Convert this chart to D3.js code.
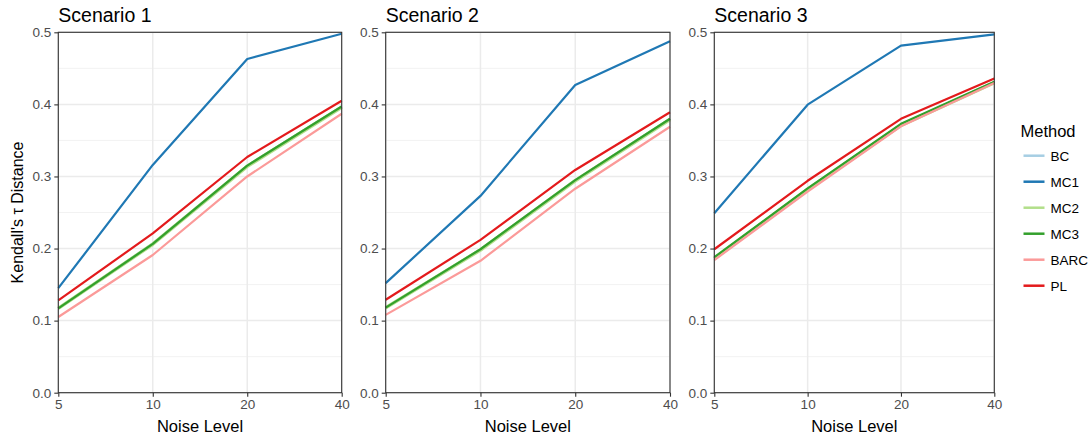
<!DOCTYPE html>
<html>
<head>
<meta charset="utf-8">
<script src="https://cdn.jsdelivr.net/npm/d3@7"></script>
<style>
  body { margin: 0; background: #fff; }
  text { font-family: "Liberation Sans", Arial, sans-serif; }
</style>
</head>
<body>
<svg id="chart" width="1091" height="437"></svg>
<script>
// data
var noiseLevels = [5, 10, 20, 40];
var methods = ["BC", "MC1", "MC2", "MC3", "BARC", "PL"];
var methodColors = ["#a6cee3", "#1f78b4", "#b2df8a", "#33a02c", "#fb9a99", "#e31a1c"];
var scenarios = ["Scenario 1", "Scenario 2", "Scenario 3"];
var yTicks = [0, 0.1, 0.2, 0.3, 0.4, 0.5];

// scenario 1
var s1BC   = [0.117, 0.207, 0.315, 0.397];
var s1MC1  = [0.145, 0.316, 0.463, 0.498];
var s1MC2  = [0.117, 0.206, 0.314, 0.396];
var s1MC3  = [0.117, 0.2065, 0.315, 0.397];
var s1BARC = [0.105, 0.191, 0.300, 0.387];
var s1PL   = [0.128, 0.221, 0.327, 0.405];
// scenario 2
var s2BC   = [0.118, 0.199, 0.295, 0.380];
var s2MC1  = [0.152, 0.273, 0.427, 0.4875];
var s2MC2  = [0.118, 0.198, 0.294, 0.379];
var s2MC3  = [0.118, 0.199, 0.295, 0.380];
var s2BARC = [0.108, 0.183, 0.283, 0.369];
var s2PL   = [0.129, 0.212, 0.309, 0.389];
// scenario 3
var s3BC   = [0.187, 0.282, 0.372, 0.431];
var s3MC1  = [0.249, 0.3996, 0.4815, 0.497];
var s3MC2  = [0.186, 0.282, 0.371, 0.430];
var s3MC3  = [0.188, 0.2835, 0.373, 0.4315];
var s3BARC = [0.184, 0.279, 0.3695, 0.4295];
var s3PL   = [0.199, 0.294, 0.380, 0.436];

var scenarioData = [
  [s1BC, s1MC1, s1MC2, s1MC3, s1BARC, s1PL],
  [s2BC, s2MC1, s2MC2, s2MC3, s2BARC, s2PL],
  [s3BC, s3MC1, s3MC2, s3MC3, s3BARC, s3PL]
];

var svg = d3.select("#chart");
var plotTop = 32.3, plotBottom = 392.7;
var panels = [{x0: 58.3, x1: 341.7}, {x0: 385.7, x1: 670}, {x0: 714.3, x1: 994.3}];

var y = d3.scaleLinear().domain([0, 0.5]).range([plotBottom, plotTop]);

panels.forEach(function(p, k){
  var x = d3.scaleLog().base(2).domain([5, 40]).range([p.x0, p.x1]);
  var g = svg.append("g");

  // minor grid
  g.selectAll(".minor")
    .data([0.05, 0.15, 0.25, 0.35, 0.45])
    .enter().append("line")
    .attr("x1", p.x0).attr("x2", p.x1)
    .attr("y1", d => y(d)).attr("y2", d => y(d))
    .style("stroke", "#f2f2f2").style("stroke-width", 1);

  // major grid
  g.selectAll(".hmajor")
    .data(yTicks)
    .enter().append("line")
    .attr("x1", p.x0).attr("x2", p.x1)
    .attr("y1", d => y(d)).attr("y2", d => y(d))
    .style("stroke", "#ebebeb").style("stroke-width", 1.5);
  g.selectAll(".vmajor")
    .data(noiseLevels)
    .enter().append("line")
    .attr("x1", d => x(d)).attr("x2", d => x(d))
    .attr("y1", plotTop).attr("y2", plotBottom)
    .style("stroke", "#ebebeb").style("stroke-width", 1.5);

  // lines
  var line = d3.line()
    .x((d, i) => x(noiseLevels[i]))
    .y(d => y(d));
  g.selectAll(".series")
    .data(scenarioData[k])
    .enter().append("path")
    .attr("d", line)
    .style("fill", "none")
    .style("stroke", (d, i) => methodColors[i])
    .style("stroke-width", (d, i) => methods[i] == "MC2" ? 3.5 : 2.2)
    .style("stroke-linejoin", "round");

  // panel border
  g.append("rect")
    .attr("x", p.x0).attr("y", plotTop)
    .attr("width", p.x1 - p.x0).attr("height", plotBottom - plotTop)
    .style("fill", "none").style("stroke", "#333").style("stroke-width", 1.1);

  // axes
  var yAxis = g.append("g").attr("transform", "translate(" + p.x0 + ",0)")
    .call(d3.axisLeft(y).tickValues(yTicks).tickFormat(d3.format(".1f")).tickSize(4).tickPadding(3));
  var xAxis = g.append("g").attr("transform", "translate(0," + plotBottom + ")")
    .call(d3.axisBottom(x).tickValues(noiseLevels).tickFormat(d => d).tickSize(4).tickPadding(2.5));
  [xAxis, yAxis].forEach(function(a){
    a.select(".domain").remove();
    a.selectAll("line").style("stroke", "#333").style("stroke-width", 1.1);
    a.selectAll("text").style("fill", "#4d4d4d").style("font-size", "13.5px")
      .style("font-family", '"Liberation Sans", Arial, sans-serif');
  });

  // panel title
  g.append("text")
    .attr("x", p.x0).attr("y", 22)
    .text(scenarios[k])
    .style("font-size", "19.5px").style("fill", "#000");

  // x title
  g.append("text")
    .attr("x", (p.x0 + p.x1) / 2).attr("y", 431.5)
    .attr("text-anchor", "middle")
    .text("Noise Level")
    .style("font-size", "16.5px").style("fill", "#000");
});

// y title
svg.append("text")
  .attr("transform", "translate(23," + (plotTop + plotBottom) / 2 + ") rotate(-90)")
  .attr("text-anchor", "middle")
  .text("Kendall's \u03c4 Distance")
  .style("font-size", "16px").style("fill", "#000");

// legend
var legend = svg.append("g").attr("transform", "translate(1020.5,0)");
legend.append("text")
  .attr("x", 0).attr("y", 136.5)
  .text("Method")
  .style("font-size", "16.5px").style("fill", "#000");
var items = legend.selectAll(".item")
  .data(methods)
  .enter().append("g")
  .attr("transform", (d, i) => "translate(0," + (155.7 + i * 26) + ")");
items.append("line")
  .attr("x1", 3).attr("x2", 24)
  .attr("y1", 0).attr("y2", 0)
  .style("stroke", (d, i) => methodColors[i])
  .style("stroke-width", 2.5);
items.append("text")
  .attr("x", 30).attr("y", 5)
  .text(d => d)
  .style("font-size", "13.5px").style("fill", "#000");
</script>
</body>
</html>
